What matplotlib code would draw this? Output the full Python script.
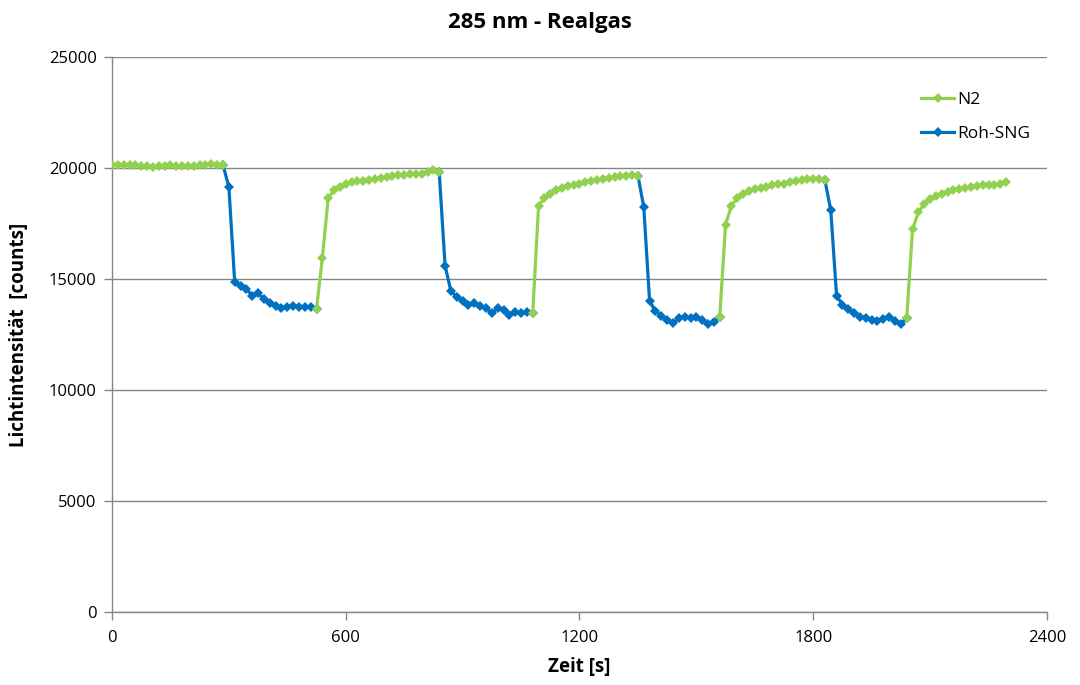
import numpy as np
import matplotlib.pyplot as plt

# sampling interval of the measurement [s]
dt = 15

# light intensity [counts], one value per sample
intensity = [
    # N2
    20150, 20130, 20150, 20120, 20140, 20100, 20080, 20050, 20080, 20100,
    20120, 20100, 20100, 20080, 20090, 20120, 20140, 20160, 20140, 20130,
    # Roh-SNG
    19150, 14850, 14700, 14550, 14250, 14350, 14100, 13900, 13800, 13700,
    13750, 13800, 13750, 13750, 13750, 13650,
    # N2
    15950, 18650, 19000, 19150, 19300, 19350, 19400, 19400, 19450, 19500,
    19550, 19600, 19650, 19700, 19700, 19750, 19750, 19750, 19800, 19900,
    19800,
    # Roh-SNG
    15600, 14450, 14200, 14000, 13850, 13900, 13800, 13700, 13450, 13700,
    13600, 13400, 13500, 13450, 13500, 13450,
    # N2
    18300, 18650, 18850, 19000, 19100, 19200, 19250, 19300, 19350, 19400,
    19450, 19500, 19550, 19600, 19620, 19650, 19700, 19650,
    # Roh-SNG
    18250, 14000, 13550, 13350, 13150, 13000, 13250, 13300, 13250, 13300,
    13150, 12950, 13050, 13300,
    # N2
    17450, 18300, 18650, 18850, 18950, 19050, 19100, 19150, 19250, 19300,
    19300, 19350, 19400, 19450, 19500, 19500, 19500, 19450,
    # Roh-SNG
    18100, 14250, 13850, 13650, 13450, 13300, 13250, 13150, 13100, 13200,
    13300, 13100, 12950, 13250,
    # N2
    17250, 18000, 18400, 18600, 18750, 18850, 18900, 19000, 19050, 19100,
    19150, 19200, 19250, 19250, 19250, 19300, 19350,
]

# sample indices where the gas was switched (first/last sample of each phase)
n2_phases = [(0, 19), (35, 56), (72, 90), (104, 122), (136, 153)]
sng_phases = [(19, 35), (56, 72), (90, 104), (122, 136)]

series = [("N2", n2_phases, "#92D050"), ("Roh-SNG", sng_phases, "#0070C0")]

xticks = [0, 600, 1200, 1800, 2400]
yticks = [0, 5000, 10000, 15000, 20000, 25000]

plt.rcParams['font.family'] = ['Open Sans', 'DejaVu Sans']

values = np.array(intensity, dtype=float)
time = np.arange(len(values)) * dt


def masked(phases):
    y = np.full_like(values, np.nan)
    for a, b in phases:
        y[a:b + 1] = values[a:b + 1]
    return y


fig = plt.figure(figsize=(10.8, 6.85), dpi=100)
ax = fig.add_axes([0.1037, 0.1066, 0.8657, 0.8102])

# blue first, green on top
for name, phases, color in reversed(series):
    ax.plot(time, masked(phases), color=color, lw=2.3, marker='D',
            markersize=5.2, markeredgewidth=0, label=name, zorder=3)

ax.set_xlim(0, 2400)
ax.set_ylim(0, 25000)
ax.set_xticks(xticks)
ax.set_yticks(yticks)
ax.tick_params(labelsize=12, color='#868686', length=6, width=1)
ax.tick_params(axis='x', pad=7)
ax.tick_params(axis='y', pad=5)

ax.grid(axis='y', color='#868686', lw=1)
ax.set_axisbelow(True)
for side in ['top', 'right']:
    ax.spines[side].set_visible(False)
for side in ['left', 'bottom']:
    ax.spines[side].set_color('#868686')
    ax.spines[side].set_linewidth(1)

# title is centred on the whole figure, not on the plot area
fig.suptitle('285 nm - Realgas', fontsize=16, fontweight='bold', x=0.5, y=0.983, va='top')
ax.set_xlabel('Zeit [s]', fontsize=13.5, fontweight='bold', labelpad=8)
ax.set_ylabel('Lichtintensität  [counts]', fontsize=13.5, fontweight='bold', labelpad=14)

handles, labels = ax.get_legend_handles_labels()
ax.legend(handles[::-1], labels[::-1], loc='upper left', bbox_to_anchor=(0.849, 0.965),
          frameon=False, fontsize=12.5, handlelength=1.9, labelspacing=1.0,
          handletextpad=0.15)

fig.savefig('out.png', dpi=100)
